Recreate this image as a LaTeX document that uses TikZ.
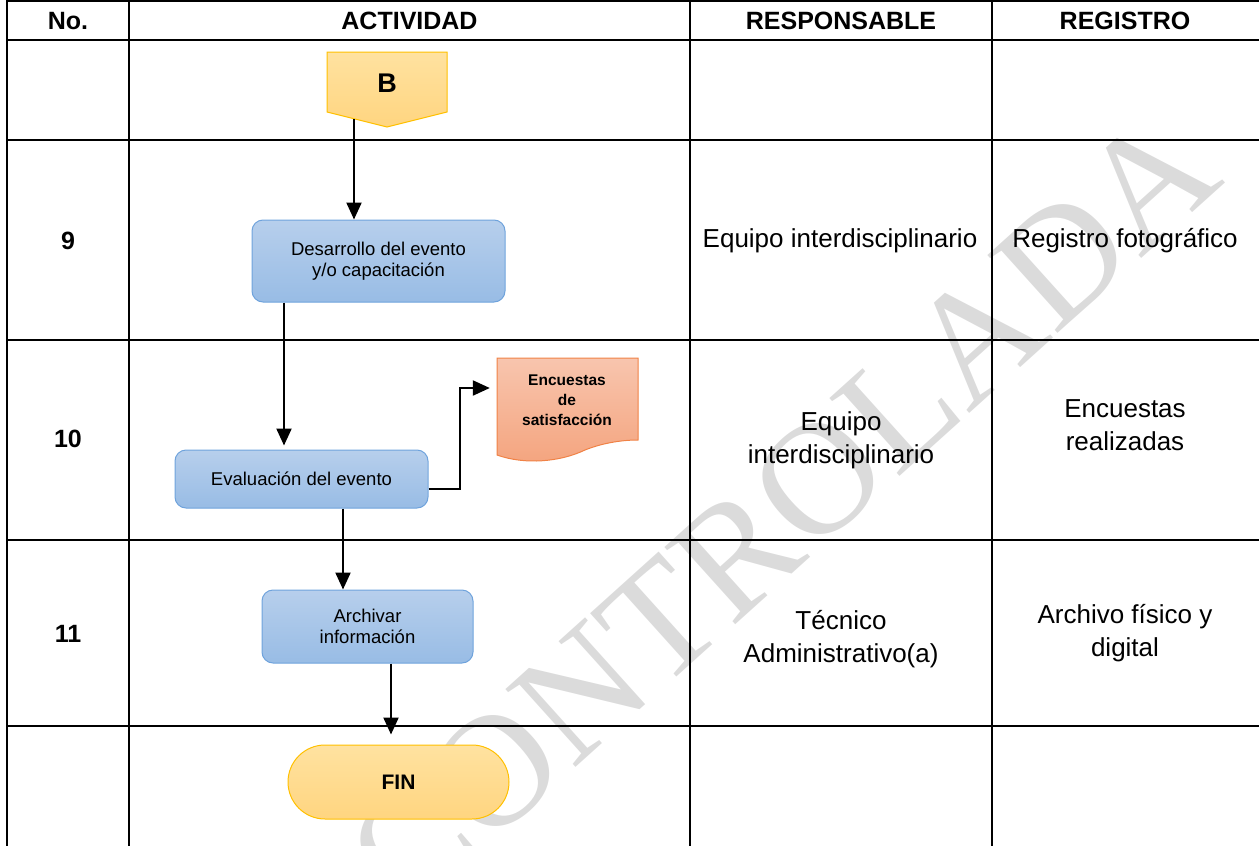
\documentclass[tikz,border=0pt]{standalone}
\usepackage{fontspec}
\setmainfont{Liberation Sans}
\newfontfamily\wmfont{Liberation Serif}
\usetikzlibrary{arrows.meta}
\definecolor{procT}{RGB}{183,207,236}
\definecolor{procBot}{RGB}{152,188,229}
\definecolor{procB}{RGB}{111,163,220}
\definecolor{termT}{RGB}{255,226,160}
\definecolor{termBot}{RGB}{255,213,128}
\definecolor{termB}{RGB}{255,192,0}
\definecolor{docT}{RGB}{248,197,174}
\definecolor{docBot}{RGB}{244,164,126}
\definecolor{docB}{RGB}{240,130,70}
\definecolor{wm}{RGB}{219,219,219}
\begin{document}
\begin{tikzpicture}[x=1pt,y=-1pt,
  tline/.style={line width=2pt},
  arr/.style={line width=2.2pt,-{Triangle[length=17pt,width=15pt]}},
  proc/.style={draw=procB,line width=1pt,top color=procT,bottom color=procBot,rounded corners=11pt,align=center,font=\fontsize{18.5}{21.5}\selectfont,inner sep=0pt},
  term/.style={draw=termB,line width=1pt,top color=termT,bottom color=termBot,rounded corners=37pt,font=\bfseries\fontsize{21}{21}\selectfont,inner sep=0pt},
  hdr/.style={font=\bfseries\fontsize{25}{25}\selectfont,inner sep=0pt},
  cell/.style={font=\fontsize{26}{33}\selectfont,align=center,inner sep=0pt}
]
\useasboundingbox (0,0) rectangle (1259,846);
% watermark
\node[rotate=42,text=wm,font=\wmfont\fontsize{160}{160}\selectfont,inner sep=0pt] (wmk) at (782,512) {CONTROLADA};
% table
\foreach \yy in {1,40,140,340,540,726} \draw[tline] (7,\yy) -- (1259,\yy);
\foreach \xx in {7,129,690,992} \draw[tline] (\xx,0) -- (\xx,846);
% headers
\node[hdr] (h1) at (68,21) {No.};
\node[hdr] (h2) at (409.5,21) {ACTIVIDAD};
\node[hdr] (h3) at (841,21) {RESPONSABLE};
\node[hdr] (h4) at (1125,21) {REGISTRO};
% numbers
\node[hdr] (n9) at (68,241) {9};
\node[hdr] (n10) at (68,439) {10};
\node[hdr] (n11) at (68,634) {11};
% cells
\node[cell] (r9) at (840,241) {Equipo interdisciplinario};
\node[cell] (g9) at (1125,241) {Registro fotográfico};
\node[cell] (r10) at (841,440) {Equipo\\interdisciplinario};
\node[cell] (g10) at (1125,425) {Encuestas\\realizadas};
\node[cell] (r11) at (841,639) {Técnico\\Administrativo(a)};
\node[cell] (g11) at (1125,633) {Archivo físico y\\digital};
% B connector
\shade[top color=termT,bottom color=termBot,draw=termB,line width=1pt] (327,52) -- (447,52) -- (447,112) -- (387,127) -- (327,112) -- cycle;
\node[font=\bfseries\fontsize{27}{27}\selectfont,inner sep=0pt] (B) at (387,83) {B};
% process boxes
\node[proc,minimum width=253pt,minimum height=82pt] (des) at (378.5,261) {Desarrollo del evento\\y/o capacitación};
\node[proc,minimum width=253pt,minimum height=58pt] (eva) at (301.5,479) {Evaluación del evento};
\node[proc,minimum width=211pt,minimum height=73pt] (arc) at (367.5,626.5) {Archivar\\información};
\node[term,minimum width=221pt,minimum height=74pt] (fin) at (398.5,782) {FIN};
% document
\shade[top color=docT,bottom color=docBot,draw=docB,line width=1pt] (497,358) -- (638,358) -- (638,440) .. controls (625,440) and (605,442) .. (585,450) .. controls (560,462) and (525,465) .. (497,455) -- cycle;
\node[inner sep=0pt,minimum width=141pt,minimum height=97pt] (enc) at (567.5,406.5) {};
\node[font=\bfseries\fontsize{15.5}{20}\selectfont,align=center,inner sep=0pt] (enctxt) at (567,400) {Encuestas\\de\\satisfacción};
% connectors
\coordinate (bx) at (354,119);
\draw[arr] (bx) -- (bx |- des.north);
\coordinate (c1) at (284,0);
\draw[arr,shorten >=4pt] (c1 |- des.south) -- (c1 |- eva.north);
\coordinate (c2) at (460,489);
\coordinate (c3) at (460,388);
\draw[arr,shorten >=7pt] (c2 -| eva.east) -- (c2) -- (c3) -- (c3 -| enc.west);
\coordinate (c4) at (343,0);
\draw[arr] (c4 |- eva.south) -- (c4 |- arc.north);
\coordinate (c5) at (391,0);
\draw[arr,shorten >=10pt] (c5 |- arc.south) -- (c5 |- fin.north);
\end{tikzpicture}
\end{document}
